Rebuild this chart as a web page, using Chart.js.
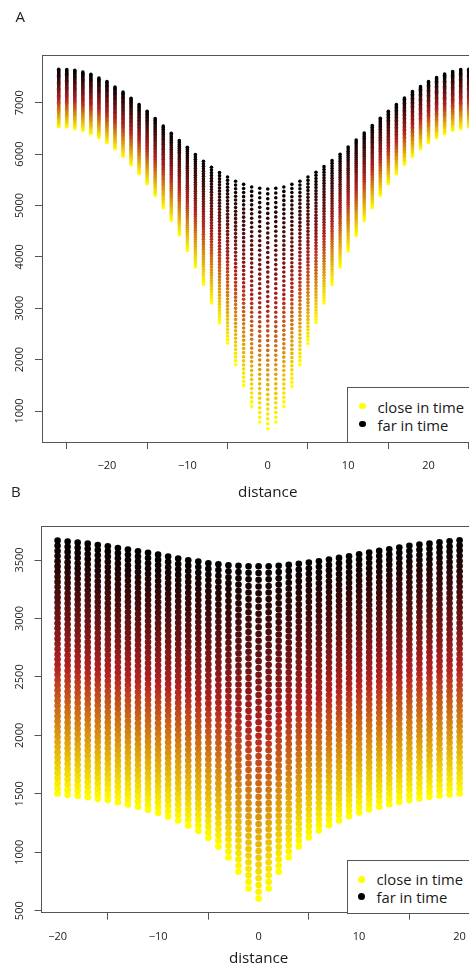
<!DOCTYPE html>
<html>
<head>
<meta charset="utf-8">
<script src="https://cdn.jsdelivr.net/npm/chart.js@4.4.1/dist/chart.umd.min.js"></script>
<style>
  html, body { margin:0; padding:0; background:#fff; width:469px; height:969px; overflow:hidden; position:relative; }
  canvas { position:absolute; left:0; }
  #cA { top:0; }
  #cB { top:480px; }
  .plab { position:absolute; font-family:'Open Sans'; font-size:15px; line-height:15px; color:#222; }
  .lbox { position:absolute; border:1px solid #555; background:#fff; width:200px; box-sizing:border-box; }
  .ldot { position:absolute; border-radius:50%; }
  .ltxt { position:absolute; font-family:'Open Sans'; font-size:14.8px; line-height:18px; color:#1a1a1a; white-space:nowrap; }
</style>
</head>
<body>
<canvas id="cA" width="510" height="505" style="width:510px;height:505px"></canvas>
<canvas id="cB" width="510" height="489" style="width:510px;height:489px"></canvas>

<div class="plab" style="left:15.5px;top:9px">A</div>
<div class="plab" style="left:11px;top:484px">B</div>

<div class="lbox" style="left:347px;top:387px;height:56px"></div>
<div class="ldot" style="left:359px;top:402.7px;width:6.6px;height:6.6px;background:#ffff00"></div>
<div class="ldot" style="left:359px;top:420.7px;width:6.6px;height:6.6px;background:#000"></div>
<div class="ltxt" style="left:377.5px;top:397.5px">close in time</div>
<div class="ltxt" style="left:377.5px;top:415.5px">far in time</div>

<div class="lbox" style="left:346.5px;top:859.5px;height:54px"></div>
<div class="ldot" style="left:358.2px;top:875.5px;width:7px;height:7px;background:#ffff00"></div>
<div class="ldot" style="left:358.2px;top:893.2px;width:7px;height:7px;background:#000"></div>
<div class="ltxt" style="left:376.5px;top:870px">close in time</div>
<div class="ltxt" style="left:376.5px;top:887.5px">far in time</div>

<script>
// ---------------- Panel A data ----------------
const distA = [-26,-25,-24,-23,-22,-21,-20,-19,-18,-17,-16,-15,-14,-13,-12,-11,-10,-9,-8,-7,-6,-5,-4,-3,-2,-1,
                0,1,2,3,4,5,6,7,8,9,10,11,12,13,14,15,16,17,18,19,20,21,22,23,24,25,26];
// lowest point of each column (close in time)
const lowA = [6530,6526,6494,6461,6396,6318,6221,6104,5955,5799,5618,5423,5196,4956,4710,4431,4125,3802,3464,3102,2718,2323,1907,1498,1090,786,
              656,786,1090,1479,1907,2315,2724,3102,3464,3802,4114,4417,4710,4956,5196,5423,5618,5799,5955,6104,6221,6318,6396,6461,6494,6526,6530];
// highest point of each column (far in time)
const highA = [7648,7643,7630,7597,7552,7481,7410,7306,7208,7085,6962,6832,6690,6547,6404,6261,6132,5989,5859,5742,5639,5554,5470,5411,5360,5334,
               5321,5334,5360,5411,5470,5554,5645,5755,5872,5996,6138,6274,6410,6554,6696,6832,6962,7092,7215,7312,7410,7487,7558,7604,7643,7650,7655];
const xTicksA = [-20,-10,0,10,20];
const yTicksA = [1000,2000,3000,4000,5000,6000,7000];

// ---------------- Panel B data ----------------
const distB = [-20,-19,-18,-17,-16,-15,-14,-13,-12,-11,-10,-9,-8,-7,-6,-5,-4,-3,-2,-1,
                0,1,2,3,4,5,6,7,8,9,10,11,12,13,14,15,16,17,18,19,20];
const lowB = [1502,1491,1483,1471,1457,1446,1428,1408,1389,1363,1337,1306,1272,1229,1183,1123,1049,955,833,690,
              604,690,833,957,1049,1126,1186,1232,1272,1309,1340,1366,1389,1411,1431,1446,1460,1474,1485,1494,1502];
const highB = [3666,3658,3649,3640,3629,3618,3603,3589,3575,3561,3546,3529,3512,3498,3487,3472,3464,3455,3450,3447,
               3447,3447,3450,3458,3467,3478,3489,3504,3518,3532,3549,3564,3578,3592,3606,3621,3632,3640,3652,3660,3669];
const xTicksB = [-20,-10,0,10,20];
const yTicksB = [500,1000,1500,2000,2500,3000,3500];

const legendLabels = ['close in time','far in time'];
const axisTitle = 'distance';

// ---------------- styling helpers ----------------
const FONT = "'Open Sans'";
const LINE = '#555';
const RAMP = [[0,[255,255,0]],[0.5,[178,34,34]],[1,[0,0,0]]];
function ramp(t){
  for (let i=1;i<RAMP.length;i++){
    if (t <= RAMP[i][0]){
      const a=RAMP[i-1], b=RAMP[i];
      const f=(t-a[0])/(b[0]-a[0]);
      const c=a[1].map((v,j)=>Math.round(v+(b[1][j]-v)*f));
      return 'rgb('+c.join(',')+')';
    }
  }
  return 'rgb(0,0,0)';
}
// Fill texture for the column bars: a bead of dots spanning each bar, coloured
// from yellow (close in time, bottom) to black (far in time, top).
function dotPattern(chart, dist, low, high, r, n){
  const area = chart.chartArea;
  if (!area || !chart.scales.x || !chart.scales.y) return null;
  const key = [area.left,area.top,area.right,area.bottom].join(',');
  if (chart.$dots && chart.$dots.key === key) return chart.$dots.pattern;
  const c = document.createElement('canvas');
  c.width = chart.width; c.height = chart.height;
  const g = c.getContext('2d');
  const xs = chart.scales.x, ys = chart.scales.y;
  for (let i=0;i<dist.length;i++){
    const px = xs.getPixelForValue(dist[i]);
    const yb = ys.getPixelForValue(low[i]);
    const yt = ys.getPixelForValue(high[i]);
    for (let k=0;k<n;k++){
      const t = k/(n-1);
      g.fillStyle = ramp(t);
      g.beginPath();
      g.arc(px, yb+(yt-yb)*t, r, 0, Math.PI*2);
      g.fill();
    }
  }
  const pattern = chart.ctx.createPattern(c,'no-repeat');
  chart.$dots = {key, pattern};
  return pattern;
}
const minus = v => String(v).replace('-', '\u2212');

function buildChart(id, o){
  return new Chart(document.getElementById(id), {
    type:'bar',
    data:{ datasets:[{
      data: o.dist.map((d,i)=>({x:d, y:[o.low[i], o.high[i]]})),
      barThickness: 1,
      inflateAmount: o.r + 1,
      borderWidth: 0,
      borderSkipped: false,
      backgroundColor: ctx => dotPattern(ctx.chart, o.dist, o.low, o.high, o.r, o.n) || 'rgba(0,0,0,0)'
    }]},
    options:{
      responsive:false, animation:false, devicePixelRatio:1, events:[],
      layout:{ padding:{ left:0, top:o.padTop, right:o.padRight, bottom:0 } },
      plugins:{ legend:{display:false}, tooltip:{enabled:false} },
      scales:{
        x:{
          type:'linear', min:o.xmin, max:o.xmax, offset:false, bounds:'data',
          grid:{ display:true, drawOnChartArea:false, drawTicks:true, tickLength:7, color:LINE, lineWidth:1 },
          border:{ display:true, color:LINE, width:1 },
          ticks:{ autoSkip:false, padding:10.4, color:'#222', font:{family:FONT, size:11}, maxRotation:0, minRotation:0, callback:v=>minus(v) },
          afterBuildTicks: s => { s.ticks = o.xTicks.map(v=>({value:v})); },
          afterFit: s => { s.height = o.xHeight; },
          title:{ display:true, text:axisTitle, color:'#1a1a1a', font:{family:FONT, size:15.2, lineHeight:1}, padding:{top:0, bottom:o.titlePad} }
        },
        xTop:{
          type:'linear', position:'top', min:o.xmin, max:o.xmax, offset:false,
          grid:{ display:false, drawTicks:false }, ticks:{ display:false },
          border:{ display:true, color:LINE, width:1 },
          afterFit: s => { s.height = 0; }
        },
        y:{
          type:'linear', min:o.ymin, max:o.ymax, bounds:'data',
          grid:{ display:true, drawOnChartArea:false, drawTicks:true, tickLength:7, color:LINE, lineWidth:1 },
          border:{ display:true, color:LINE, width:1 },
          ticks:{ autoSkip:false, minRotation:90, maxRotation:90, crossAlign:'center', padding:o.yPad, color:'#222', font:{family:FONT, size:11}, callback:v=>String(v) },
          afterBuildTicks: s => { s.ticks = o.yTicks.map(v=>({value:v})); },
          afterFit: s => { s.width = o.yWidth; }
        }
      }
    }
  });
}

buildChart('cA', { dist:distA, low:lowA, high:highA, xTicks:xTicksA, yTicks:yTicksA,
  r:1.8, n:50, xmin:-28.08, xmax:28.08, ymin:396.8, ymax:7927.6,
  padTop:55, padRight:16.5, xHeight:63, yWidth:42, yPad:2.4, titlePad:5 });

buildChart('cB', { dist:distB, low:lowB, high:highB, xTicks:xTicksB, yTicks:yTicksB,
  r:3.3, n:50, xmin:-21.6, xmax:21.6, ymin:482.9, ymax:3790.9,
  padTop:46, padRight:34.3, xHeight:56.3, yWidth:41.5, yPad:1.9, titlePad:2.3 });
</script>
</body>
</html>
